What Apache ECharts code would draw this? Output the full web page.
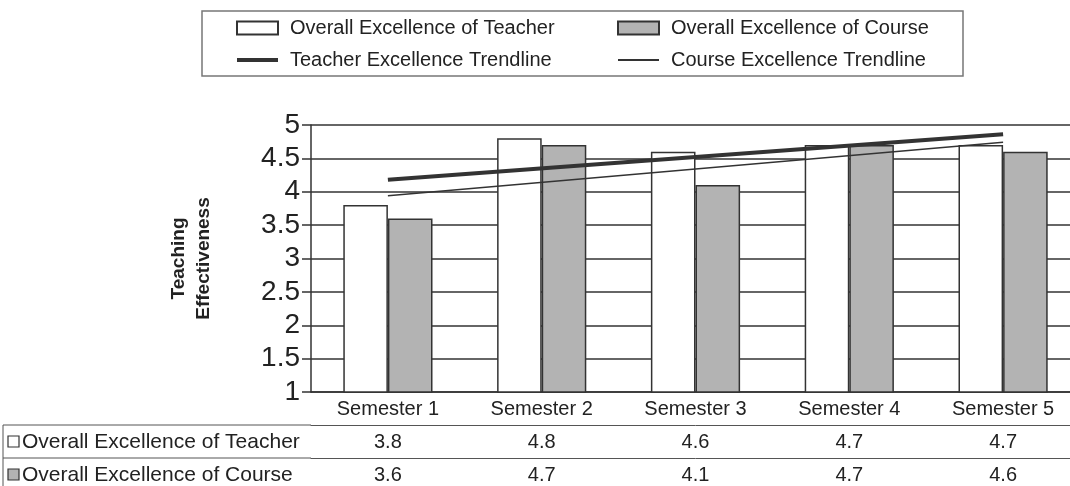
<!DOCTYPE html>
<html>
<head>
<meta charset="utf-8">
<script src="https://cdn.jsdelivr.net/npm/echarts@6/dist/echarts.min.js"></script>
<style>
  html, body { margin: 0; padding: 0; background: #fff; overflow: hidden; }
  #main { width: 1080px; height: 486px; }
</style>
</head>
<body>
<div id="main"></div>
<script>
// data
var semesters = ['Semester 1', 'Semester 2', 'Semester 3', 'Semester 4', 'Semester 5']
var teacherScores = [3.8, 4.8, 4.6, 4.7, 4.7]
var courseScores = [3.6, 4.7, 4.1, 4.7, 4.6]
// trendlines: only the end points are drawn, straight line between
var teacherTrend = [4.18, null, null, null, 4.86]
var courseTrend = [3.94, null, null, null, 4.74]

var ink = '#333'
var font = 'Liberation Sans, Arial, sans-serif'

// legend icons for the trendlines (corner points only set the box size)
var thickIcon = 'path://M0,0L0,0ZM0,4.5L41,4.5L41,8.5L0,8.5ZM41,13L41,13Z'
var thinIcon = 'path://M0,0L0,0ZM0,5.6L41,5.6L41,7.4L0,7.4ZM41,13L41,13Z'

var myChart = echarts.init(document.getElementById('main'))

var legendText = { fontSize: 20, color: '#222', lineHeight: 20, padding: [0, 0, 0, 7] }

var option = {
  animation: false,
  textStyle: { fontFamily: font },
  grid: { left: 311, right: 0, top: 125, bottom: 94, containLabel: false },
  legend: [{
    orient: 'vertical',
    left: 231,
    top: 13,
    itemWidth: 41,
    itemHeight: 13,
    itemGap: 12,
    textStyle: legendText,
    data: [
      { name: 'Overall Excellence of Teacher', icon: 'rect' },
      { name: 'Teacher Excellence Trendline', icon: thickIcon }
    ]
  }, {
    orient: 'vertical',
    left: 612,
    top: 13,
    itemWidth: 41,
    itemHeight: 13,
    itemGap: 12,
    textStyle: legendText,
    data: [
      { name: 'Overall Excellence of Course', icon: 'rect' },
      { name: 'Course Excellence Trendline', icon: thinIcon }
    ]
  }],
  xAxis: [{
    type: 'category',
    data: semesters,
    position: 'bottom',
    axisLine: { lineStyle: { color: ink, width: 1.5 } },
    axisTick: { length: 33, lineStyle: { color: '#555', width: 1 } },
    axisLabel: { fontSize: 20, color: '#222', margin: 7 }
  }, {
    type: 'category',
    data: semesters,
    position: 'bottom',
    offset: 33,
    axisLine: { lineStyle: { color: '#555', width: 1 } },
    axisTick: { length: 33, lineStyle: { color: '#555', width: 1 } },
    axisLabel: {
      fontSize: 20, color: '#222', margin: 7,
      formatter: function (v, i) { return teacherScores[i].toFixed(1) }
    }
  }, {
    type: 'category',
    data: semesters,
    position: 'bottom',
    offset: 66,
    axisLine: { lineStyle: { color: '#555', width: 1 } },
    axisTick: { length: 40, lineStyle: { color: '#555', width: 1 } },
    axisLabel: {
      fontSize: 20, color: '#222', margin: 7,
      formatter: function (v, i) { return courseScores[i].toFixed(1) }
    }
  }],
  yAxis: {
    type: 'value',
    min: 1,
    max: 5,
    interval: 0.5,
    name: 'Teaching\nEffectiveness',
    nameLocation: 'middle',
    nameRotate: 90,
    nameGap: 95,
    nameTextStyle: { fontSize: 19, fontWeight: 'bold', color: '#222', lineHeight: 25 },
    axisLine: { show: true, lineStyle: { color: ink, width: 1.5 } },
    axisTick: { show: true, length: 9, lineStyle: { color: ink, width: 1.5 } },
    axisLabel: { fontSize: 28, color: '#222', margin: 11 },
    splitLine: { lineStyle: { color: ink, width: 1.5 } }
  },
  series: [{
    name: 'Overall Excellence of Teacher',
    type: 'bar',
    data: teacherScores,
    barGap: 0,
    barCategoryGap: '42%',
    itemStyle: { color: '#fff', borderColor: ink, borderWidth: 1.5 }
  }, {
    name: 'Overall Excellence of Course',
    type: 'bar',
    data: courseScores,
    itemStyle: { color: '#b3b3b3', borderColor: ink, borderWidth: 1.5 }
  }, {
    name: 'Teacher Excellence Trendline',
    type: 'line',
    data: teacherTrend,
    connectNulls: true,
    symbol: 'none',
    lineStyle: { color: ink, width: 4 },
    itemStyle: { color: ink }
  }, {
    name: 'Course Excellence Trendline',
    type: 'line',
    data: courseTrend,
    connectNulls: true,
    symbol: 'none',
    lineStyle: { color: ink, width: 1.5 },
    itemStyle: { color: ink }
  }],
  graphic: [
    // legend box
    { type: 'rect', shape: { x: 202, y: 11, width: 761, height: 65 },
      style: { fill: 'none', stroke: '#777', lineWidth: 1.5 } },
    // table row headers
    { type: 'line', shape: { x1: 3, y1: 425, x2: 311, y2: 425 }, style: { stroke: '#555', lineWidth: 1 } },
    { type: 'line', shape: { x1: 3, y1: 458, x2: 311, y2: 458 }, style: { stroke: '#555', lineWidth: 1 } },
    { type: 'line', shape: { x1: 3, y1: 425, x2: 3, y2: 490 }, style: { stroke: '#555', lineWidth: 1 } },
    { type: 'rect', shape: { x: 8, y: 436, width: 11, height: 11 },
      style: { fill: '#fff', stroke: ink, lineWidth: 1.2 } },
    { type: 'rect', shape: { x: 8, y: 469, width: 11, height: 11 },
      style: { fill: '#b3b3b3', stroke: ink, lineWidth: 1.2 } },
    { type: 'text', x: 22, y: 442,
      style: { text: 'Overall Excellence of Teacher', fontSize: 21, fontFamily: font, fill: '#222', verticalAlign: 'middle' } },
    { type: 'text', x: 22, y: 475,
      style: { text: 'Overall Excellence of Course', fontSize: 21, fontFamily: font, fill: '#222', verticalAlign: 'middle' } }
  ]
}

myChart.setOption(option)
</script>
</body>
</html>
